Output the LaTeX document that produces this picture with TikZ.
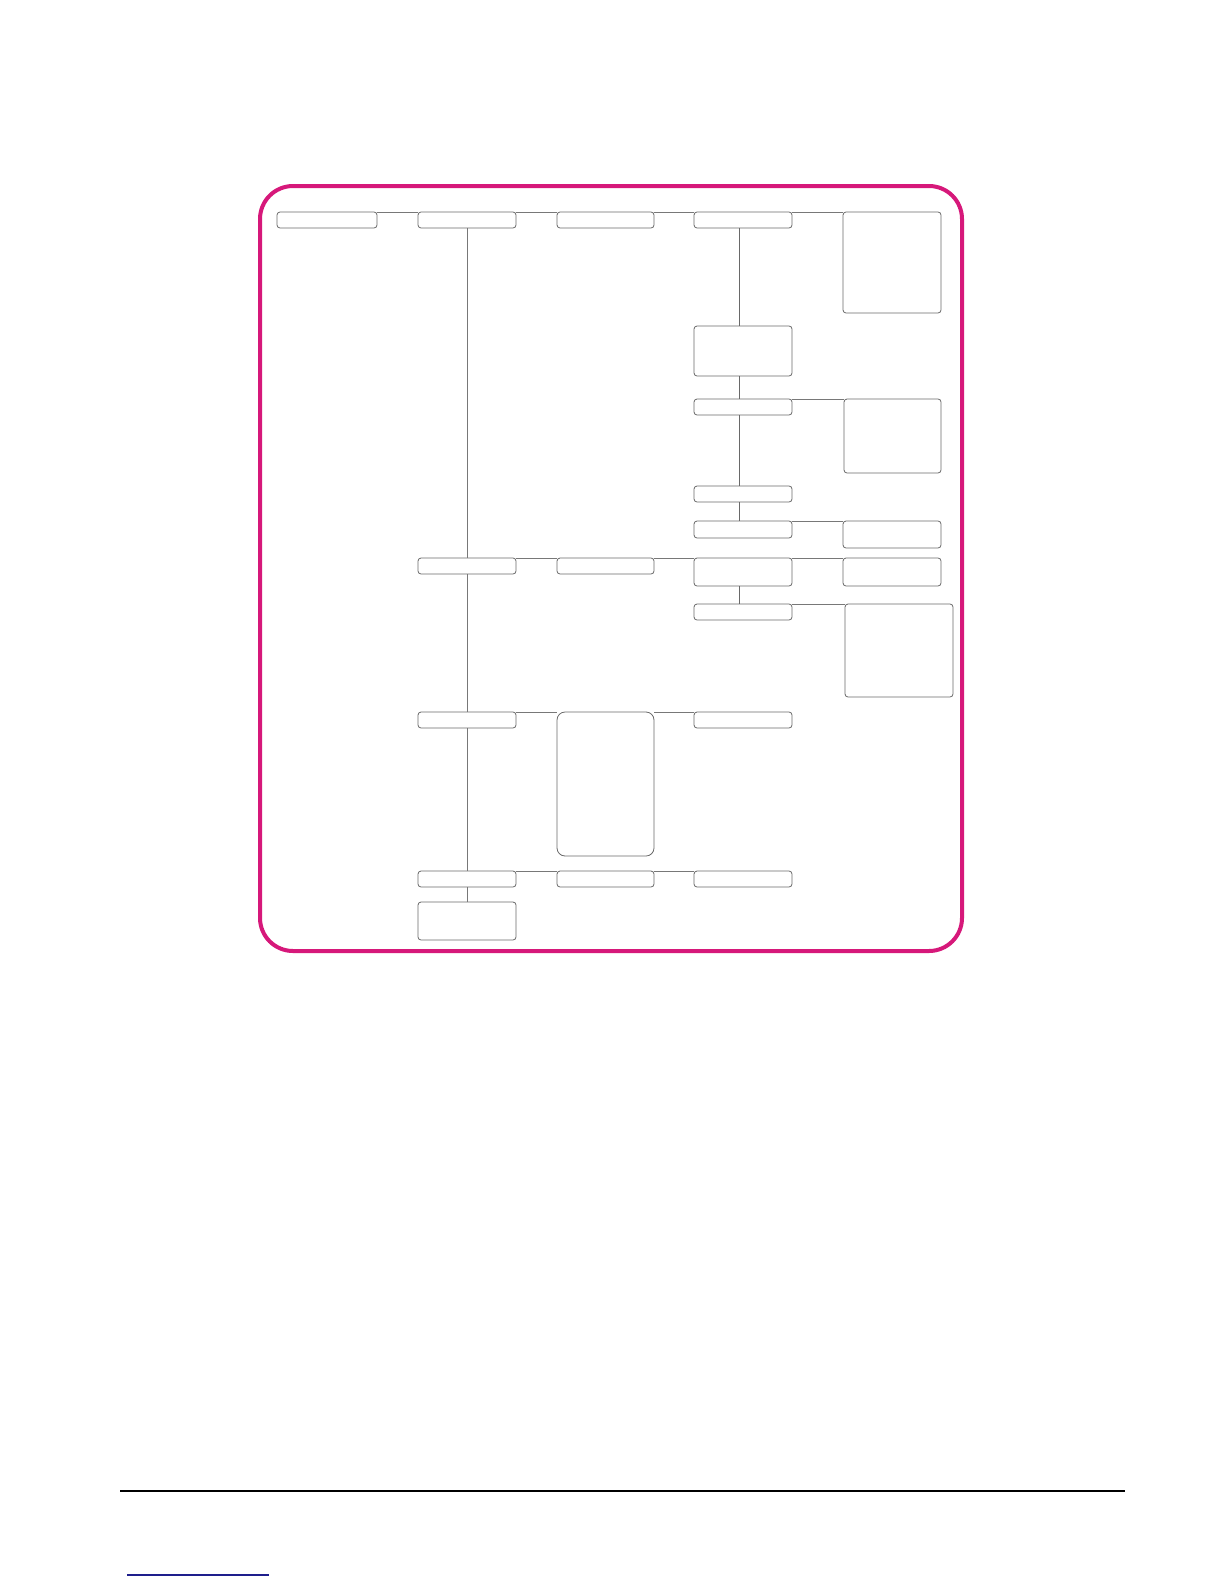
\documentclass[tikz,border=0pt]{standalone}
\definecolor{framepink}{RGB}{214,24,122}
\definecolor{boxline}{RGB}{105,105,105}
\definecolor{connline}{RGB}{120,120,120}
\definecolor{linkblue}{RGB}{30,30,140}
\begin{document}
\begin{tikzpicture}[x=1pt,y=-1pt,
  box/.style={draw=boxline, line width=0.8pt, rounded corners=3pt, fill=white,
              inner sep=0pt, outer sep=0pt, minimum width=98pt, minimum height=16pt},
  conn/.style={draw=connline, line width=0.8pt}]
\useasboundingbox (0,0) rectangle (1224,1584);
% frame
\draw[framepink, line width=4pt, rounded corners=33pt] (260,186) rectangle (962,951);
% column 1
\node[box, minimum width=100pt] (A) at (327,220) {};
% column 2
\node[box] (B) at (467,220) {};
\node[box] (L) at (467,566) {};
\node[box] (L2) at (467,720) {};
\node[box] (O) at (467,879) {};
\node[box, minimum height=38pt] (R) at (467,921) {};
% column 3
\node[box, minimum width=97pt] (C) at (605.5,220) {};
\node[box, minimum width=97pt] (S) at (605.5,566) {};
\node[box, minimum width=97pt, minimum height=144pt, rounded corners=8pt] (M) at (605.5,784) {};
\node[box, minimum width=97pt] (P) at (605.5,879) {};
% column 4
\node[box] (D) at (743,220) {};
\node[box, minimum height=50pt] (F) at (743,351) {};
\node[box] (G) at (743,407) {};
\node[box] (I) at (743,494) {};
\node[box, minimum height=17pt] (J) at (743,529.5) {};
\node[box, minimum height=28pt] (T) at (743,572) {};
\node[box] (V) at (743,612) {};
\node[box] (N) at (743,720) {};
\node[box] (Q) at (743,879) {};
% column 5
\node[box, minimum height=101pt] (E) at (892,262.5) {};
\node[box, minimum width=97pt, minimum height=74pt] (H) at (892.5,436) {};
\node[box, minimum height=27pt] (K) at (892,534.5) {};
\node[box, minimum height=28pt] (U) at (892,572) {};
\node[box, minimum width=108pt, minimum height=93pt] (W) at (899,650.5) {};
% horizontal connectors (along top edges)
\draw[conn] (A.north east) -- (B.north west);
\draw[conn] (B.north east) -- (C.north west);
\draw[conn] (C.north east) -- (D.north west);
\draw[conn] (D.north east) -- (E.north west);
\draw[conn] (G.north east) -- (H.north west);
\draw[conn] (J.north east) -- (K.north west);
\draw[conn] (L.north east) -- (S.north west);
\draw[conn] (S.north east) -- (T.north west);
\draw[conn] (T.north east) -- (U.north west);
\draw[conn] (V.north east) -- (W.north west);
\draw[conn] (L2.north east) -- (M.north west);
\draw[conn] (M.north east) -- (N.north west);
\draw[conn] (O.north east) -- (P.north west);
\draw[conn] (P.north east) -- (Q.north west);
% vertical trunk column 2
\draw[conn] (B.south) -- (L.north);
\draw[conn] (L.south) -- (L2.north);
\draw[conn] (L2.south) -- (O.north);
\draw[conn] (O.south) -- (R.north);
% vertical trunk column 4
\draw[conn, draw=boxline] ([xshift=-3.5pt]D.south) -- ([xshift=-3.5pt]F.north);
\draw[conn, draw=boxline] ([xshift=-3.5pt]F.south) -- ([xshift=-3.5pt]G.north);
\draw[conn, draw=boxline] ([xshift=-3.5pt]G.south) -- ([xshift=-3.5pt]I.north);
\draw[conn, draw=boxline] ([xshift=-3.5pt]I.south) -- ([xshift=-3.5pt]J.north);
\draw[conn, draw=boxline] ([xshift=-3.5pt]T.south) -- ([xshift=-3.5pt]V.north);
% page footer rules
\coordinate (ruleL) at (120,1491);
\coordinate (ruleR) at (1125,1491);
\draw[black, line width=1.5pt] (ruleL) -- (ruleR);
\coordinate (linkL) at (127,1575);
\coordinate (linkR) at (269,1575);
\draw[linkblue, line width=1.5pt] (linkL) -- (linkR);
\end{tikzpicture}
\end{document}
